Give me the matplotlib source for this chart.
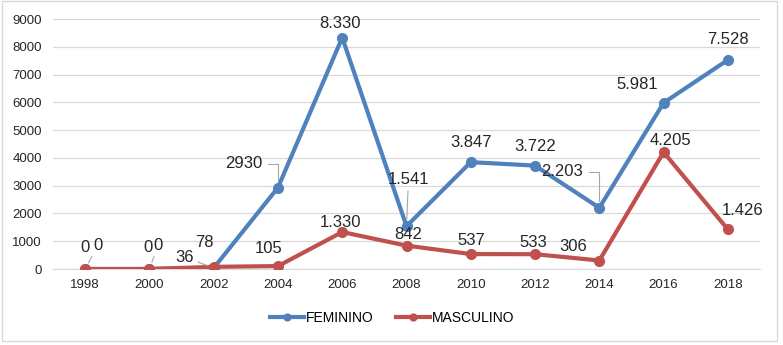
import numpy as np
import matplotlib
matplotlib.use('Agg')
import matplotlib.pyplot as plt
from matplotlib.patches import Rectangle

plt.rcParams['font.family'] = ['Liberation Sans', 'DejaVu Sans']

years = ['1998', '2000', '2002', '2004', '2006', '2008', '2010', '2012', '2014', '2016', '2018']
feminino = [0, 0, 36, 2930, 8330, 1541, 3847, 3722, 2203, 5981, 7528]
masculino = [0, 0, 78, 105, 1330, 842, 537, 533, 306, 4205, 1426]
fem_labels = ['0', '0', '36', '2930', '8.330', '1.541', '3.847', '3.722', '2.203', '5.981', '7.528']
masc_labels = ['0', '0', '78', '105', '1.330', '842', '537', '533', '306', '4.205', '1.426']

blue = '#4F81BD'
red = '#C0504D'

# label offsets in pixels (dx, dy), plus leader line style
fem_offsets = [(13, 24, 'line'), (9, 24, 'line'), (-29, 11, 'line'), (-34, 24, 'bracket'),
               (-2, 14, None), (2, 47, 'line'), (0, 20, None), (0, 19, None),
               (-37, 36, 'bracket'), (-26, 18, None), (0, 20, None)]
masc_offsets = [(0, 21, None), (-1, 22, None), (-9, 24, None), (-9, 18, None),
                (-2, 10, None), (2, 11, None), (0, 14, None), (-2, 12, None),
                (-26, 14, None), (7, 12, None), (15, 19, None)]


def add_labels(ax, x, vals, labels, offsets):
    for xi, v, lab, (dx, dy, lead) in zip(x, vals, labels, offsets):
        arrow = None
        if lead == 'line':
            arrow = dict(arrowstyle='-', color='#A6A6A6', lw=0.8, shrinkA=1, shrinkB=5)
        elif lead == 'bracket':
            arrow = dict(arrowstyle='-', color='#A6A6A6', lw=0.8, shrinkA=2, shrinkB=5,
                         connectionstyle='angle,angleA=0,angleB=90,rad=0')
        ax.annotate(lab, (xi, v), xytext=(dx, dy), textcoords='offset pixels',
                    ha='center', va='center', fontsize=12, color='#262626',
                    arrowprops=arrow, zorder=5)


def main():
    fig = plt.figure(figsize=(7.83, 3.45), dpi=100)
    fig.patches.append(Rectangle((0.002, 0.012), 0.99, 0.984, transform=fig.transFigure,
                                 fill=False, edgecolor='#D9D9D9', lw=1))
    ax = fig.add_axes([53 / 783, 76 / 345, 707 / 783, 250 / 345])

    x = np.arange(len(years))
    ax.plot(x, feminino, '-o', color=blue, lw=3.0, ms=7, label='FEMININO', zorder=3)
    ax.plot(x, masculino, '-o', color=red, lw=3.0, ms=7, label='MASCULINO', zorder=3)

    add_labels(ax, x, feminino, fem_labels, fem_offsets)
    add_labels(ax, x, masculino, masc_labels, masc_offsets)

    ax.set_xlim(-0.5, len(years) - 0.5)
    ax.set_ylim(0, 9000)
    ax.set_yticks(np.arange(0, 9001, 1000))
    ax.set_xticks(x)
    ax.set_xticklabels(years)
    ax.tick_params(length=0, labelsize=9.5, colors='#262626')
    ax.tick_params(axis='y', pad=8)
    ax.tick_params(axis='x', pad=7)
    ax.grid(axis='y', color='#D9D9D9', lw=0.9)
    ax.set_axisbelow(True)
    for s in ['top', 'right', 'left']:
        ax.spines[s].set_visible(False)
    ax.spines['bottom'].set_color('#D9D9D9')

    fig.legend(loc='center', bbox_to_anchor=(392 / 783, 1 - 318 / 345), ncol=2,
               frameon=False, fontsize=10, handlelength=2.5, handletextpad=0.1,
               columnspacing=1.6, markerscale=0.7)

    fig.savefig('out.png', dpi=100)


if __name__ == "__main__":
    main()
